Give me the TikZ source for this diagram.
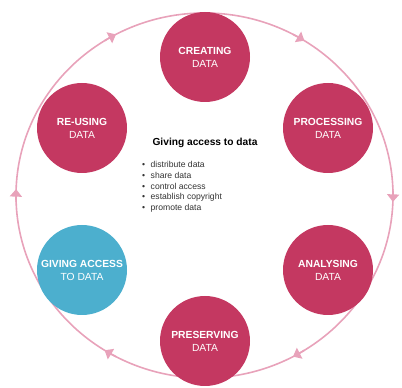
\documentclass[tikz,border=0pt]{standalone}
\usepackage{fontspec}
\setmainfont{Liberation Sans}
\usetikzlibrary{arrows.meta,calc}
\definecolor{stagepink}{RGB}{196,56,97}
\definecolor{stageblue}{RGB}{76,175,206}
\definecolor{cyclepink}{RGB}{232,162,186}
\definecolor{listgray}{RGB}{51,51,51}
\tikzset{
  stage/.style={circle, fill=stagepink, minimum size=90pt, inner sep=0pt,
    text=white, align=center, font=\fontsize{10.3}{13}\selectfont},
  activestage/.style={stage, fill=stageblue},
  cycle/.style={draw=cyclepink, line width=1.6pt},
  cycletip/.style={cycle, -{Triangle[width=12pt,length=7.5pt]}},
  heading/.style={font=\fontsize{10.2}{12}\selectfont\bfseries, text=black},
  tasklist/.style={font=\fontsize{8.6}{10.8}\selectfont, text=listgray,
    align=left, anchor=north west, inner sep=0pt}
}
\begin{document}
\begin{tikzpicture}[x=1pt,y=1pt]
  \useasboundingbox (0,0) rectangle (402,388);
  % lifecycle ring
  \coordinate (ringc) at (204.5,192.5);
  \draw[cycle] (ringc) ellipse[x radius=188.5, y radius=182.5];
  % clockwise arrowheads, one between each pair of stages
  \foreach \a in {0,60,...,300}{
    \draw[cycletip] ($(ringc)+(\a+2:188.5 and 182.5)$)
      arc[start angle=\a+2, end angle=\a-2, x radius=188.5, y radius=182.5];
  }
  % stages of the data lifecycle
  \node[stage] (create)  at (205,331) {\textbf{CREATING}\\DATA};
  \node[stage] (process) at (328,260) {\textbf{PROCESSING}\\DATA};
  \node[stage] (analyse) at (328,118) {\textbf{ANALYSING}\\DATA};
  \node[stage] (preserve) at (205,47) {\textbf{PRESERVING}\\DATA};
  \node[activestage] (access) at (82,118) {\textbf{GIVING ACCESS}\\TO DATA};
  \node[stage] (reuse)   at (82,260) {\textbf{RE-USING}\\DATA};
  % description of the highlighted stage
  \node[heading] (title) at (205,245.5) {Giving access to data};
  \node[tasklist] (tasks) at (142,227) {%
    \textbullet\hspace{5.5pt}distribute data\\
    \textbullet\hspace{5.5pt}share data\\
    \textbullet\hspace{5.5pt}control access\\
    \textbullet\hspace{5.5pt}establish copyright\\
    \textbullet\hspace{5.5pt}promote data};
\end{tikzpicture}
\end{document}
